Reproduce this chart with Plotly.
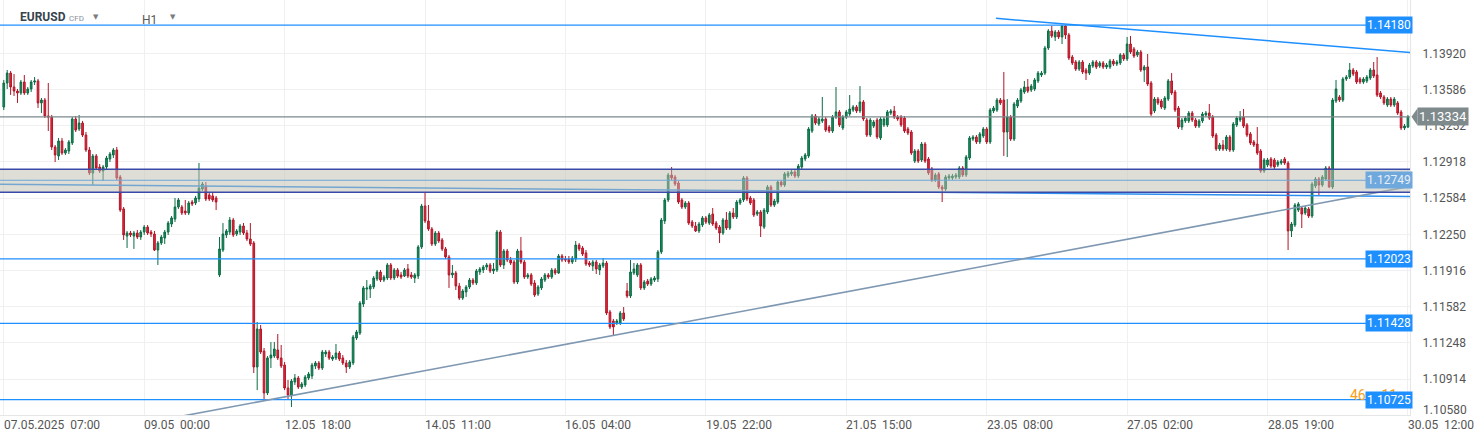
import plotly.graph_objects as go

# ---------------- data (prices in points of 1e-5) ----------------
open_pts = [
    113425, 113646, 113738, 113609, 113572, 113554, 113655, 113554, 113591, 113655,
    113665, 113462, 113489, 113342, 113332, 113056, 112973, 113111, 113000, 113019,
    113093, 113314, 113222, 113277, 113166, 113028, 112816, 112973, 112871, 112834,
    112871, 112945, 112982, 113028, 112779, 112484, 112234, 112262, 112234, 112262,
    112225, 112271, 112317, 112271, 112253, 112105, 112170, 112216, 112271, 112345,
    112391, 112502, 112502, 112465, 112447, 112548, 112539, 112576, 112668, 112696,
    112613, 112604, 112585, 111875, 112105, 112244, 112271, 112382, 112253, 112271,
    112327, 112262, 112207, 112170, 111026, 111376, 111173, 110786, 111109, 111127,
    111183, 111109, 111044, 110832, 110767, 110887, 110924, 110841, 110860, 110924,
    110943, 111035, 111063, 111016, 111146, 111164, 111099, 111109, 111155, 111109,
    111063, 111026, 111063, 111293, 111339, 111607, 111745, 111745, 111764, 111838,
    111902, 111828, 111847, 111967, 111847, 111921, 111875, 111865, 111930, 111875,
    111847, 111865, 112133, 112511, 112373, 112299, 112161, 112262, 112198, 112115,
    112041, 111875, 111893, 111773, 111662, 111718, 111764, 111828, 111801, 111902,
    111921, 111948, 111967, 111912, 111921, 112271, 111967, 112096, 112013, 111994,
    111810, 112096, 111994, 111856, 111875, 111801, 111699, 111755, 111828, 111875,
    111856, 111921, 111893, 112050, 112022, 112022, 111994, 112022, 112151, 112124,
    112078, 111985, 111958, 111994, 111921, 111958, 111985, 111533, 111450, 111432,
    111432, 111524, 111727, 111681, 111893, 111875, 111967, 111755, 111819, 111791,
    111828, 111838, 112087, 112373, 112567, 112797, 112779, 112723, 112567, 112502,
    112539, 112364, 112327, 112281, 112336, 112401, 112354, 112437, 112354, 112317,
    112262, 112382, 112308, 112447, 112410, 112539, 112567, 112770, 112585, 112567,
    112437, 112456, 112317, 112456, 112687, 112520, 112548, 112733, 112705, 112788,
    112807, 112825, 112788, 112871, 112945, 112973, 113203, 113342, 113268, 113296,
    113314, 113240, 113203, 113332, 113379, 113231, 113332, 113360, 113397, 113425,
    113388, 113471, 113305, 113166, 113249, 113305, 113139, 113259, 113259, 113369,
    113388, 113332, 113332, 113323, 113222, 113194, 112926, 113019, 112936, 113083,
    112945, 112853, 112751, 112807, 112687, 112668, 112770, 112770, 112779, 112779,
    112862, 112797, 112954, 113129, 113148, 113102, 113157, 113222, 113102, 113388,
    113397, 113489, 113489, 113194, 113332, 113129, 113434, 113480, 113563, 113609,
    113582, 113591, 113665, 113720, 113738, 113969, 114126, 114071, 114117, 114071,
    114172, 114089, 113886, 113840, 113775, 113840, 113766, 113738, 113803, 113840,
    113803, 113831, 113794, 113794, 113849, 113821, 113831, 113905, 113868, 114006,
    113960, 113905, 113932, 113766, 113794, 113646, 113388, 113498, 113480, 113415,
    113498, 113665, 113563, 113415, 113240, 113296, 113296, 113369, 113305, 113249,
    113296, 113351, 113369, 113332, 113166, 113037, 113074, 113037, 113148, 113028,
    113259, 113305, 113332, 113259, 113176, 113102, 113083, 113019, 112834, 112890,
    112945, 112936, 112890, 112908, 112945, 112908, 112281, 112336, 112474, 112493,
    112447, 112484, 112419, 112696, 112760, 112705, 112760, 112862, 112687, 113480,
    113517, 113489, 113683, 113701, 113766, 113748, 113683, 113655, 113665, 113692,
    113766, 113720, 113554, 113517, 113443, 113498, 113443, 113462, 113379, 113231, 113240,
]
high_pts = [
    113674, 113766, 113757, 113729, 113591, 113674, 113720, 113609, 113674, 113701,
    113683, 113508, 113508, 113646, 113351, 113074, 113139, 113139, 113046, 113120,
    113332, 113342, 113351, 113296, 113194, 113056, 112991, 112991, 112899, 112890,
    112973, 113010, 113046, 113056, 112797, 112502, 112281, 112281, 112281, 112290,
    112290, 112336, 112336, 112290, 112281, 112188, 112244, 112290, 112373, 112419,
    112585, 112585, 112520, 112567, 112557, 112567, 112604, 112908, 112733, 112733,
    112640, 112640, 112604, 112225, 112354, 112299, 112410, 112401, 112299, 112345,
    112354, 112290, 112354, 112188, 111441, 111413, 111201, 111127, 111256, 111256,
    111330, 111229, 111072, 110906, 110915, 110961, 110943, 110887, 110952, 110980,
    111063, 111081, 111081, 111183, 111183, 111183, 111136, 111238, 111173, 111136,
    111090, 111090, 111321, 111367, 111635, 111773, 111828, 111791, 111865, 111921,
    111921, 111875, 111985, 111985, 111939, 111939, 111902, 111939, 111976, 111902,
    111893, 112151, 112530, 112640, 112520, 112317, 112281, 112281, 112216, 112133,
    112059, 111967, 111912, 111801, 111745, 111782, 111847, 111847, 111930, 111948,
    111967, 111985, 111985, 111985, 112290, 112290, 112115, 112115, 112041, 112013,
    112115, 112225, 112013, 111893, 111893, 111828, 111782, 111856, 111893, 111893,
    111939, 111939, 112068, 112068, 112050, 112050, 112050, 112188, 112170, 112142,
    112105, 112004, 112013, 112013, 111985, 112031, 112004, 111552, 111469, 111469,
    111542, 111579, 111801, 112013, 111985, 111985, 111985, 111828, 111838, 111856,
    111865, 112105, 112401, 112585, 112816, 112871, 112797, 112742, 112585, 112557,
    112557, 112382, 112364, 112364, 112419, 112419, 112447, 112493, 112373, 112336,
    112401, 112456, 112465, 112493, 112567, 112585, 112788, 112788, 112604, 112585,
    112474, 112474, 112493, 112705, 112705, 112576, 112751, 112751, 112825, 112834,
    112843, 112843, 112899, 112973, 113000, 113240, 113360, 113360, 113332, 113517,
    113332, 113259, 113351, 113609, 113397, 113351, 113397, 113535, 113443, 113443,
    113618, 113489, 113323, 113323, 113305, 113323, 113332, 113332, 113397, 113406,
    113434, 113351, 113351, 113342, 113240, 113212, 113037, 113037, 113102, 113102,
    112963, 112871, 112816, 112825, 112705, 112797, 112807, 112807, 112816, 112880,
    112880, 112982, 113157, 113166, 113166, 113194, 113240, 113240, 113415, 113434,
    113508, 113508, 113748, 113498, 113351, 113471, 113508, 113600, 113665, 113683,
    113637, 113692, 113757, 113757, 113988, 114144, 114172, 114135, 114135, 114181,
    114181, 114108, 113905, 113858, 113858, 113858, 113785, 113831, 113858, 113858,
    113849, 113849, 113831, 113868, 113868, 113858, 113923, 113923, 114071, 114080,
    113978, 113951, 113951, 113812, 113914, 113665, 113517, 113517, 113498, 113526,
    113683, 113738, 113582, 113434, 113323, 113342, 113388, 113388, 113323, 113314,
    113379, 113388, 113452, 113351, 113185, 113093, 113120, 113166, 113166, 113286,
    113342, 113388, 113406, 113277, 113194, 113120, 113240, 113037, 112954, 112954,
    112963, 112954, 112936, 112945, 112963, 112926, 112364, 112539, 112548, 112511,
    112511, 112502, 112733, 112779, 112779, 112797, 112880, 112880, 113508, 113674,
    113535, 113701, 113720, 113831, 113785, 113766, 113701, 113701, 113720, 113785,
    113840, 113886, 113572, 113535, 113517, 113517, 113517, 113480, 113397, 113268, 113351,
]
low_pts = [
    113397, 113591, 113536, 113526, 113462, 113536, 113536, 113536, 113563, 113628,
    113416, 113369, 113323, 113203, 113028, 112917, 112936, 112982, 112982, 112991,
    113074, 113194, 113203, 113148, 113010, 112797, 112705, 112843, 112816, 112742,
    112843, 112917, 112954, 112751, 112456, 112198, 112124, 112225, 112115, 112207,
    112198, 112244, 112244, 112225, 112096, 111967, 112151, 112161, 112244, 112317,
    112364, 112484, 112428, 112428, 112428, 112511, 112520, 112548, 112650, 112557,
    112557, 112548, 112474, 111856, 112087, 112216, 112244, 112225, 112234, 112244,
    112244, 112188, 112142, 110970, 110813, 111146, 110712, 110767, 111016, 111109,
    111090, 111016, 110813, 110721, 110657, 110860, 110823, 110823, 110841, 110906,
    110915, 111007, 110998, 110998, 111118, 111090, 111081, 111090, 111081, 111044,
    110970, 111007, 111044, 111275, 111321, 111579, 111644, 111662, 111745, 111819,
    111810, 111810, 111828, 111828, 111828, 111847, 111838, 111856, 111847, 111838,
    111801, 111838, 112115, 112354, 112281, 112142, 112142, 112170, 112096, 112022,
    111755, 111847, 111736, 111644, 111644, 111672, 111745, 111782, 111782, 111875,
    111893, 111921, 111893, 111884, 111902, 111948, 111930, 111994, 111967, 111791,
    111791, 111976, 111838, 111838, 111773, 111672, 111681, 111736, 111810, 111838,
    111838, 111875, 111884, 111994, 111994, 111976, 111976, 111994, 112096, 112050,
    111958, 111948, 111912, 111884, 111875, 111939, 111505, 111376, 111312, 111413,
    111413, 111450, 111662, 111662, 111875, 111856, 111736, 111736, 111773, 111773,
    111810, 111810, 112068, 112345, 112548, 112751, 112696, 112530, 112484, 112484,
    112336, 112308, 112271, 112262, 112317, 112345, 112336, 112327, 112290, 112170,
    112244, 112290, 112290, 112391, 112391, 112520, 112548, 112557, 112520, 112410,
    112419, 112225, 112299, 112437, 112502, 112502, 112530, 112687, 112687, 112770,
    112788, 112770, 112770, 112853, 112926, 112954, 113185, 113259, 113249, 113277,
    113194, 113185, 113185, 113314, 113240, 113212, 113314, 113342, 113379, 113369,
    113369, 113296, 113148, 113148, 113231, 113129, 113120, 113240, 113240, 113351,
    113314, 113296, 113240, 113185, 113166, 112982, 112908, 112908, 112917, 112908,
    112797, 112733, 112733, 112668, 112548, 112650, 112751, 112751, 112760, 112760,
    112779, 112779, 112936, 113111, 113083, 113083, 113139, 113083, 113083, 113369,
    113379, 113443, 112973, 112963, 113111, 113111, 113415, 113462, 113545, 113554,
    113563, 113572, 113646, 113701, 113720, 113951, 114062, 114034, 114052, 114006,
    114052, 113858, 113812, 113757, 113757, 113729, 113674, 113720, 113785, 113775,
    113785, 113775, 113775, 113775, 113803, 113803, 113812, 113849, 113849, 113914,
    113877, 113886, 113748, 113655, 113618, 113342, 113369, 113443, 113406, 113397,
    113480, 113535, 113379, 113222, 113212, 113277, 113277, 113286, 113231, 113231,
    113277, 113332, 113305, 113139, 113019, 113019, 113019, 113019, 113010, 113010,
    113240, 113286, 113231, 113148, 113074, 113056, 112982, 112816, 112816, 112871,
    112862, 112853, 112871, 112890, 112890, 112105, 112225, 112317, 112456, 112308,
    112428, 112401, 112401, 112677, 112613, 112687, 112742, 112677, 112668, 113462,
    113471, 113471, 113665, 113683, 113711, 113637, 113637, 113637, 113646, 113674,
    113692, 113517, 113498, 113443, 113425, 113425, 113425, 113351, 113212, 113212, 113231,
]
close_pts = [
    113646, 113738, 113609, 113572, 113554, 113655, 113554, 113591, 113655, 113665,
    113462, 113489, 113342, 113332, 113056, 112982, 113111, 113000, 113028, 113102,
    113314, 113212, 113277, 113166, 113028, 112816, 112973, 112862, 112834, 112871,
    112954, 112991, 113028, 112770, 112474, 112244, 112262, 112244, 112262, 112225,
    112271, 112317, 112262, 112253, 112105, 112170, 112225, 112271, 112354, 112401,
    112502, 112567, 112447, 112447, 112539, 112530, 112585, 112677, 112714, 112576,
    112576, 112567, 112548, 112115, 112253, 112281, 112382, 112244, 112281, 112327,
    112262, 112207, 112161, 111026, 111376, 111164, 110786, 111109, 111136, 111192,
    111109, 111035, 110832, 110767, 110896, 110924, 110841, 110869, 110933, 110961,
    111044, 111063, 111016, 111164, 111164, 111109, 111118, 111155, 111099, 111063,
    111026, 111072, 111302, 111349, 111616, 111755, 111755, 111773, 111847, 111902,
    111828, 111856, 111967, 111847, 111921, 111865, 111856, 111921, 111865, 111856,
    111875, 112133, 112511, 112373, 112299, 112161, 112262, 112188, 112115, 112041,
    111875, 111893, 111773, 111662, 111727, 111764, 111828, 111801, 111912, 111930,
    111948, 111967, 111912, 111930, 112271, 111967, 112096, 112013, 111985, 111810,
    112096, 111994, 111856, 111875, 111791, 111690, 111764, 111838, 111875, 111856,
    111921, 111893, 112050, 112013, 112013, 111994, 112031, 112151, 112115, 112068,
    111976, 111967, 111994, 111930, 111967, 111985, 111524, 111395, 111395, 111450,
    111524, 111469, 111681, 111902, 111930, 111967, 111755, 111810, 111791, 111838,
    111847, 112087, 112382, 112567, 112797, 112770, 112714, 112548, 112502, 112539,
    112354, 112327, 112281, 112345, 112401, 112364, 112428, 112345, 112308, 112262,
    112382, 112308, 112447, 112410, 112548, 112567, 112770, 112576, 112539, 112428,
    112456, 112327, 112474, 112687, 112520, 112557, 112733, 112705, 112807, 112816,
    112825, 112788, 112880, 112954, 112982, 113222, 113342, 113277, 113314, 113314,
    113212, 113203, 113332, 113379, 113259, 113332, 113379, 113406, 113425, 113388,
    113471, 113314, 113166, 113305, 113286, 113148, 113314, 113314, 113379, 113388,
    113332, 113314, 113259, 113203, 113185, 113000, 113019, 112926, 113083, 112926,
    112816, 112751, 112797, 112687, 112668, 112779, 112788, 112788, 112797, 112862,
    112797, 112963, 113139, 113148, 113102, 113176, 113222, 113102, 113397, 113415,
    113489, 113462, 113194, 113332, 113129, 113452, 113489, 113582, 113609, 113572,
    113618, 113674, 113738, 113738, 113969, 114126, 114080, 114117, 114071, 114172,
    114089, 113877, 113831, 113775, 113840, 113748, 113738, 113812, 113840, 113794,
    113831, 113794, 113812, 113849, 113821, 113840, 113905, 113868, 114006, 113932,
    113895, 113932, 113766, 113794, 113637, 113360, 113498, 113462, 113425, 113508,
    113665, 113554, 113397, 113240, 113305, 113323, 113369, 113305, 113249, 113296,
    113360, 113369, 113323, 113157, 113037, 113074, 113037, 113148, 113028, 113268,
    113323, 113332, 113249, 113166, 113093, 113074, 113000, 112834, 112936, 112936,
    112880, 112871, 112917, 112926, 112908, 112281, 112345, 112520, 112530, 112437,
    112493, 112419, 112714, 112760, 112705, 112779, 112862, 112687, 113489, 113591,
    113489, 113683, 113701, 113766, 113729, 113655, 113655, 113683, 113701, 113766,
    113711, 113535, 113517, 113462, 113498, 113443, 113498, 113369, 113231, 113249, 113334,
]

x_tick_bars = [0, 41, 82, 123, 164, 205, 246, 287, 328, 369, 410]
x_tick_labels = ["07.05.2025  07:00", "09.05  00:00", "12.05  18:00", "14.05  11:00",
                 "16.05  04:00", "19.05  22:00", "21.05  15:00", "23.05  08:00",
                 "27.05  02:00", "28.05  19:00", "30.05  12:00"]
y_ticks = [1.10580, 1.10914, 1.11248, 1.11582, 1.11916, 1.12250, 1.12584,
           1.12918, 1.13252, 1.13586, 1.13920]

blue_levels = [1.14180, 1.12023, 1.11428, 1.10725]
band_level = 1.12749
band_zone = [1.12638, 1.12850]
current_price = 1.13334
# trendlines: (bar, price) endpoints
rising_trend = [(52.3, 1.10574), (411.2, 1.12696)]
falling_trend = [(289.7, 1.14243), (411.2, 1.13926)]
flat_trend = [(-1.1, 1.12712), (411.2, 1.12599)]
countdown = "46m 11s"

# ---------------- layout geometry ----------------
W, H = 1482, 441
ML, MR, MT, MB = 0, 72, 0, 26
PW, PH = W - ML - MR, H - MT - MB
X_RANGE = [-1.1, 410.6]
Y_RANGE = [1.105828, 1.14412]

BLUE = "#1e8fff"
FONT = "Roboto, sans-serif"


def dy(px):
    return px * (Y_RANGE[1] - Y_RANGE[0]) / PH


def xp(px):
    return px / PW


def yp(px):
    return 1 - px / PH


o = [v / 1e5 for v in open_pts]
h = [v / 1e5 for v in high_pts]
l = [v / 1e5 for v in low_pts]
c = [v / 1e5 for v in close_pts]
bars = list(range(len(c)))

fig = go.Figure()
fig.add_trace(go.Candlestick(
    x=bars, open=o, high=h, low=l, close=c,
    increasing=dict(fillcolor="#16905e", line=dict(color="#0c6b45", width=1)),
    decreasing=dict(fillcolor="#e8263c", line=dict(color="#b01628", width=1)),
    whiskerwidth=0, hoverinfo="skip", showlegend=False,
))

shapes = []


def hline(y, color, width=1.2):
    shapes.append(dict(type="line", xref="paper", x0=0, x1=1, yref="y", y0=y, y1=y,
                       line=dict(color=color, width=width), layer="above"))


def seg(pts, color, width=1.3):
    (x0, y0), (x1, y1) = pts
    shapes.append(dict(type="line", xref="x", yref="y", x0=x0, y0=y0, x1=x1, y1=y1,
                       line=dict(color=color, width=width), layer="above"))


for lv in blue_levels:
    hline(lv, BLUE, 1.2)
hline(current_price, "#7d8a8c", 1.1)
hline(band_level, BLUE, 1.2)
seg(flat_trend, "#2a8ff0", 1.5)
seg(rising_trend, "#7f98b2", 1.6)
shapes.append(dict(type="rect", xref="paper", x0=0, x1=1, yref="y",
                   y0=band_zone[0], y1=band_zone[1],
                   fillcolor="rgba(190,190,176,0.5)", line=dict(width=0), layer="above"))
hline(band_zone[0], "#3a4aa8", 1.5)
hline(band_zone[1], "#3a4aa8", 1.5)
seg(falling_trend, BLUE, 1.5)

# current price arrow
ym = current_price
shapes.append(dict(type="path", xref="paper", yref="y",
                   path=f"M {xp(1411.5)} {ym} L {xp(1417.5)} {ym + dy(8.6)} "
                        f"L {xp(1417.5)} {ym - dy(8.6)} Z",
                   fillcolor="#7f8a8c", line=dict(width=0), layer="above"))

ann = []
# header
ann.append(dict(xref="paper", yref="paper", x=xp(18), y=yp(17.5), xanchor="left", yanchor="middle",
                text="<b>EURUSD</b>", showarrow=False, font=dict(family=FONT, size=12, color="#37434e")))
ann.append(dict(xref="paper", yref="paper", x=xp(67), y=yp(18.5), xanchor="left", yanchor="middle",
                text="CFD", showarrow=False, font=dict(family=FONT, size=8, color="#8b9197")))
for cx in (96, 172.5):
    ann.append(dict(xref="paper", yref="paper", x=xp(cx), y=yp(16.5), xanchor="center", yanchor="middle",
                    text="\u25BC", showarrow=False, font=dict(family="DejaVu Sans", size=7, color="#7c7c7c")))
ann.append(dict(xref="paper", yref="paper", x=xp(140), y=yp(20), xanchor="left", yanchor="middle",
                text="H1", showarrow=False, font=dict(family=FONT, size=12, color="#5a5a5a")))

# x tick labels (left aligned at tick)
for b, t in zip(x_tick_bars, x_tick_labels):
    ann.append(dict(xref="x", yref="paper", x=b, y=0, xanchor="left", yanchor="top", yshift=-1, xshift=-2,
                    text=t.replace(" ", "\u00a0"), showarrow=False,
                    font=dict(family=FONT, size=12, color="#555555")))
# bottom y label
ann.append(dict(xref="paper", yref="paper", x=xp(1421), y=yp(410), xanchor="left", yanchor="middle",
                text=f"{y_ticks[0]:.5f}", showarrow=False, font=dict(family=FONT, size=12, color="#555555")))

# countdown (partly behind the last blue box)
ann.append(dict(xref="paper", yref="paper", x=xp(1348), y=yp(395), xanchor="left", yanchor="middle",
                text=countdown, showarrow=False, font=dict(family=FONT, size=14, color="#f5a020")))

# price boxes
for lv in blue_levels:
    ann.append(dict(xref="paper", yref="y", x=xp(1413), y=lv, xanchor="right", yanchor="middle",
                    text=f"{lv:.5f}", showarrow=False, bgcolor=BLUE, borderpad=1,
                    font=dict(family=FONT, size=12, color="white")))
ann.append(dict(xref="paper", yref="y", x=xp(1413), y=band_level, xanchor="right", yanchor="middle",
                text=f"{band_level:.5f}", showarrow=False, bgcolor="#6fa8dc", borderpad=1,
                font=dict(family=FONT, size=12, color="#e6eef7")))
ann.append(dict(xref="paper", yref="y", x=xp(1417), y=current_price, xanchor="left", yanchor="middle",
                text=f"{current_price:.5f}", showarrow=False, bgcolor="#7f8a8c", borderpad=1,
                width=48, height=15, font=dict(family=FONT, size=13, color="white")))

fig.update_layout(
    width=W, height=H, margin=dict(l=ML, r=MR, t=MT, b=MB),
    paper_bgcolor="white", plot_bgcolor="white",
    font=dict(family=FONT, size=12, color="#555555"),
    shapes=shapes, annotations=ann, showlegend=False,
    xaxis=dict(range=X_RANGE, tickvals=x_tick_bars, showticklabels=False, showgrid=True,
               gridcolor="#f0f0f0", gridwidth=1, zeroline=False, showline=True,
               linecolor="#e6e6e6", linewidth=1, ticks="", rangeslider=dict(visible=False),
               fixedrange=True),
    yaxis=dict(range=Y_RANGE, side="right", tickvals=y_ticks,
               ticktext=[""] + [f"{v:.5f}" for v in y_ticks[1:]],
               showgrid=True, gridcolor="#f0f0f0", gridwidth=1, zeroline=False,
               showline=True, linecolor="#e6e6e6", linewidth=1, ticks="",
               ticklabelstandoff=9, tickfont=dict(family=FONT, size=12, color="#555555"),
               fixedrange=True),
)

fig.write_html("out.html", config={"displayModeBar": False},
               post_script="document.body.style.margin='0';")
